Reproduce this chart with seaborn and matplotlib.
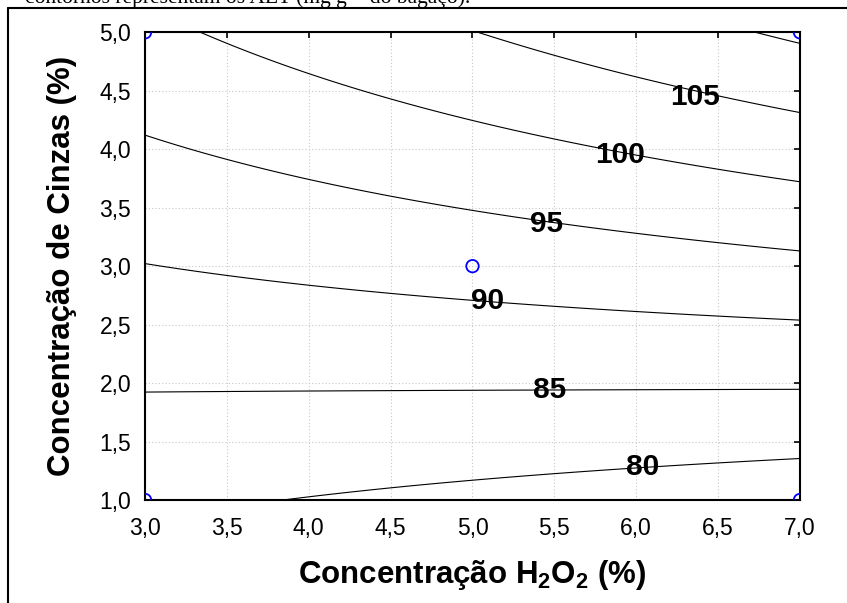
import numpy as np
import pandas as pd
import matplotlib
matplotlib.use("Agg")
import matplotlib.pyplot as plt
import seaborn as sns
from matplotlib.lines import Line2D
from matplotlib.ticker import FuncFormatter, MultipleLocator

# Factorial design (2^2 + central point) and measured AET response
h2o2 = [3.0, 3.0, 7.0, 7.0, 5.0]          # H2O2 concentration (%)
cinzas = [1.0, 5.0, 1.0, 5.0, 3.0]        # ash concentration (%)
aet = [80.8, 99.0, 77.0, 110.8, 91.9]     # AET (mg/g bagasse)
levels = [80, 85, 90, 95, 100, 105, 110]
labelled_levels = [80, 85, 90, 95, 100, 105]

df = pd.DataFrame({"h2o2": h2o2, "cinzas": cinzas, "aet": aet})

# First-order model with interaction: z = b0 + b1*x + b2*y + b12*x*y
X = np.column_stack([np.ones(len(df)), df.h2o2, df.cinzas, df.h2o2 * df.cinzas])
coef, *_ = np.linalg.lstsq(X, df.aet.to_numpy(), rcond=None)

gx = np.linspace(3.0, 7.0, 300)
gy = np.linspace(1.0, 5.0, 300)
GX, GY = np.meshgrid(gx, gy)
GZ = coef[0] + coef[1] * GX + coef[2] * GY + coef[3] * GX * GY

sns.set_style("white")
plt.rcParams["font.family"] = ["Liberation Sans", "DejaVu Sans"]
plt.rcParams["mathtext.fontset"] = "custom"
plt.rcParams["mathtext.rm"] = "Liberation Sans"
plt.rcParams["mathtext.bf"] = "Liberation Sans:bold"
plt.rcParams["text.color"] = "black"
plt.rcParams["axes.labelcolor"] = "black"

fig = plt.figure(figsize=(8.47, 6.03), dpi=100)
ax = fig.add_axes([0.1712, 0.1708, 0.7733, 0.7756])

ax.grid(True, color="#c8c8c8", linestyle=(0, (1, 2)), linewidth=0.8)
ax.set_axisbelow(True)

cs = ax.contour(GX, GY, GZ, levels=levels, colors="black", linewidths=0.8)
label_spots = [(6.04, 1.285), (5.47, 1.943), (5.09, 2.702),
               (5.455, 3.362), (5.90, 3.951), (6.36, 4.447)]
texts = ax.clabel(cs, levels=labelled_levels, inline=False, fmt="%d",
                  manual=label_spots, fontsize=21.5)
for t, spot in zip(texts, label_spots):
    t.set_rotation(0)
    t.set_position(spot)
    t.set_fontweight("bold")
    t.set_color("black")

sns.scatterplot(data=df, x="h2o2", y="cinzas", ax=ax, marker="o", s=80,
                facecolor="none", edgecolor="blue", linewidth=1.3,
                clip_on=True, zorder=5, legend=False)

ax.set_xlim(3.0, 7.0)
ax.set_ylim(1.0, 5.0)
ax.xaxis.set_major_locator(MultipleLocator(0.5))
ax.yaxis.set_major_locator(MultipleLocator(0.5))
comma = FuncFormatter(lambda v, p: f"{v:.1f}".replace(".", ","))
ax.xaxis.set_major_formatter(comma)
ax.yaxis.set_major_formatter(comma)
ax.tick_params(direction="in", length=4, width=1.2, labelsize=16.5,
               top=True, right=True, colors="black", labelcolor="black")
ax.tick_params(axis="x", pad=12)
ax.tick_params(axis="y", pad=10)

for s in ax.spines.values():
    s.set_visible(True)
    s.set_color("black")
    s.set_linewidth(1.5)

ax.set_xlabel(r"Concentração H$_\mathbf{2}$O$_\mathbf{2}$ (%)",
              fontsize=22.5, fontweight="bold", color="black")
ax.set_ylabel("Concentração de Cinzas (%)", fontsize=22.5, fontweight="bold",
              color="black")
ax.xaxis.set_label_coords(0.5, -0.16)
ax.yaxis.set_label_coords(-0.127, 0.5)
ax.yaxis.label.set_va("center")
ax.xaxis.label.set_va("center")

# Caption line from the page above (mostly outside the frame)
fig.text(25 / 847, 1 - 3.5 / 603, "contornos representam os AET (mg g⁻¹ do bagaço).",
         family=["Liberation Serif", "DejaVu Serif"], fontsize=15.5,
         ha="left", va="baseline")

# Table-cell border lines
fig.add_artist(Line2D([7.7 / 847, 1.0], [1 - 7.7 / 603, 1 - 7.7 / 603],
                      transform=fig.transFigure, color="black", linewidth=1.5))
fig.add_artist(Line2D([7.7 / 847, 7.7 / 847], [0.0, 1 - 7.7 / 603],
                      transform=fig.transFigure, color="black", linewidth=1.5))

fig.savefig("out.png", dpi=100)
